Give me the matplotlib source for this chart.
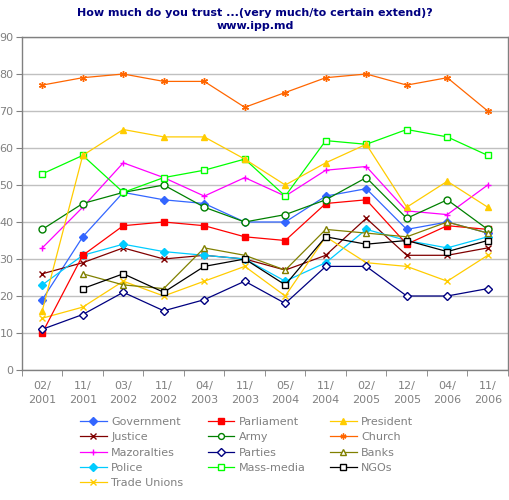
import matplotlib
matplotlib.use("Agg")
import matplotlib.pyplot as plt
import numpy as np

periods = ["02/\n2001", "11/\n2001", "03/\n2002", "11/\n2002", "04/\n2003", "11/\n2003",
           "05/\n2004", "11/\n2004", "02/\n2005", "12/\n2005", "04/\n2006", "11/\n2006"]

government = [19, 36, 48, 46, 45, 40, 40, 47, 49, 38, 40, 37]
parliament = [10, 31, 39, 40, 39, 36, 35, 45, 46, 34, 39, 38]
president = [16, 58, 65, 63, 63, 57, 50, 56, 61, 44, 51, 44]
justice = [26, 29, 33, 30, 31, 30, 27, 31, 41, 31, 31, 33]
army = [38, 45, 48, 50, 44, 40, 42, 46, 52, 41, 46, 38]
church = [77, 79, 80, 78, 78, 71, 75, 79, 80, 77, 79, 70]
mazoralties = [33, 44, 56, 52, 47, 52, 47, 54, 55, 43, 42, 50]
parties = [11, 15, 21, 16, 19, 24, 18, 28, 28, 20, 20, 22]
banks = [np.nan, 26, 23, 22, 33, 31, 27, 38, 37, 36, 40, 37]
police = [23, 31, 34, 32, 31, 30, 24, 29, 38, 35, 33, 36]
mass_media = [53, 58, 48, 52, 54, 57, 47, 62, 61, 65, 63, 58]
ngos = [np.nan, 22, 26, 21, 28, 30, 23, 36, 34, 35, 32, 35]
trade_unions = [14, 17, 24, 20, 24, 28, 20, 36, 29, 28, 24, 31]

# label, values, colour, marker, filled
series = [
    ("Government", government, "#3366FF", "D", True),
    ("Justice", justice, "#800000", "x", False),
    ("Mazoralties", mazoralties, "#FF00FF", "+", False),
    ("Police", police, "#00CCFF", "D", True),
    ("Trade Unions", trade_unions, "#FFCC00", "x", False),
    ("Parliament", parliament, "#FF0000", "s", True),
    ("Army", army, "#008000", "o", False),
    ("Parties", parties, "#000080", "D", False),
    ("Mass-media", mass_media, "#00FF00", "s", False),
    ("President", president, "#FFCC00", "^", True),
    ("Church", church, "#FF6600", (6, 2, 0), False),
    ("Banks", banks, "#808000", "^", False),
    ("NGOs", ngos, "#000000", "s", False),
]

plt.rcParams["font.family"] = "DejaVu Sans"
fig = plt.figure(figsize=(5.1, 5.0), dpi=100)
ax = fig.add_axes([22 / 510, 130 / 500, 486 / 510, 333 / 500])

x = np.arange(len(periods))
handles = []
for label, vals, col, mk, filled in series:
    if filled or mk in ("x", "+") or isinstance(mk, tuple):
        face = col
    else:
        face = "white"
    size = 4.5 if mk == "D" else 5
    (h,) = ax.plot(x, vals, color=col, linewidth=0.9, marker=mk, markersize=size,
                   markerfacecolor=face, markeredgecolor=col, markeredgewidth=1.0,
                   label=label, zorder=3)
    handles.append(h)

ax.set_xlim(-0.5, len(periods) - 0.5)
ax.set_ylim(0, 90)
ax.set_yticks(range(0, 91, 10))
ax.yaxis.grid(True, color="#C0C0C0", linewidth=1.0)
ax.set_axisbelow(True)

ax.set_xticks(x)
ax.set_xticklabels(periods, fontsize=8, color="#808080", linespacing=1.5)
ax.set_xticks(np.arange(-0.5, len(periods), 1), minor=True)
ax.tick_params(axis="x", which="major", length=0, pad=8)
ax.tick_params(axis="x", which="minor", length=4, color="#808080")
ax.tick_params(axis="y", labelsize=8, labelcolor="#808080", length=4, color="#808080", pad=2)

for s in ax.spines.values():
    s.set_color("#808080")
    s.set_linewidth(1.0)

fig.text(0.5, 0.983, "How much do you trust ...(very much/to certain extend)?\nwww.ipp.md",
         ha="center", va="top", fontsize=8, fontweight="bold", color="#000080",
         linespacing=1.3)

fig.legend(handles=handles, ncol=3, loc="upper left", bbox_to_anchor=(70 / 510, 1 - 407 / 500),
           frameon=False, fontsize=8, handlelength=2.4, handletextpad=0.4,
           columnspacing=2.2, labelspacing=0.48, labelcolor="#808080", markerscale=0.85)

fig.savefig("out.png", dpi=100)
